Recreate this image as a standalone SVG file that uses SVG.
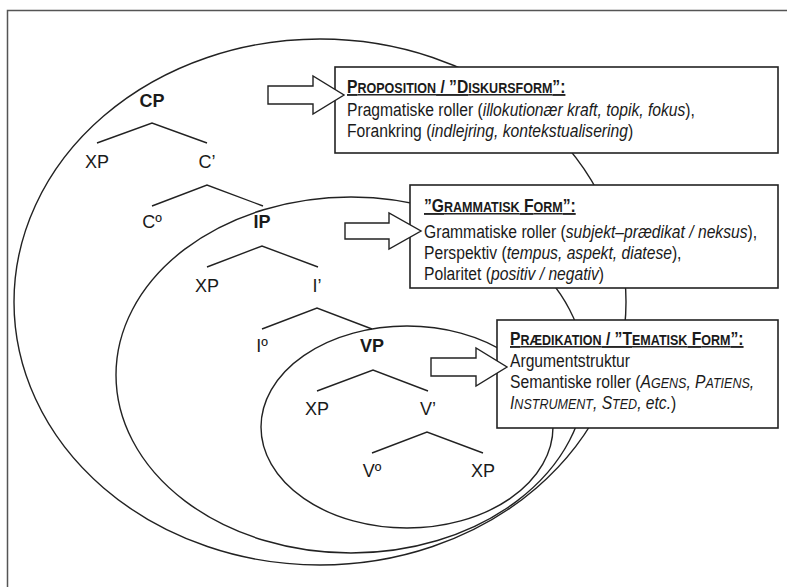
<svg xmlns="http://www.w3.org/2000/svg" width="787" height="587" viewBox="0 0 787 587">
<style>
  .frame{fill:none;stroke:#555;stroke-width:1.5}
  .scope{fill:none;stroke:#222;stroke-width:1.4}
  .box{fill:#fff;stroke:#222;stroke-width:1.6}
  .arrow{fill:#fff;stroke:#222;stroke-width:1.4;stroke-linejoin:miter}
  .edge{fill:none;stroke:#222;stroke-width:1.4}
  .lbl{font-family:"Liberation Sans",Arial,sans-serif;font-size:18px;fill:#1a1a1a;text-anchor:middle}
  .b{font-weight:bold}
  .bt{font-family:"Liberation Sans",Arial,sans-serif;font-size:18px;fill:#1a1a1a}
  .ttl{font-weight:bold;text-decoration:underline}
  .i{font-style:italic}
  .sc{font-size:14.4px}
</style>
<rect x="0" y="0" width="787" height="587" fill="#fff"/>
<path class="frame" d="M7.5 600 V10.5 H800"/>

<g id="scopes">
  <ellipse id="scope-cp" class="scope" cx="320" cy="302" rx="306" ry="263"/>
  <ellipse id="scope-ip" class="scope" cx="351" cy="375" rx="235" ry="178"/>
  <ellipse id="scope-vp" class="scope" cx="407" cy="427" rx="146" ry="101"/>
</g>

<g id="connectors">
  <polyline class="edge" points="97,143 152,123 207,143"/>
  <polyline class="edge" points="152,206 207,185 263,206"/>
  <polyline class="edge" points="207,267 262,246 318,267"/>
  <polyline class="edge" points="262,329 317,308 372,329"/>
  <polyline class="edge" points="317,391 373,370 428,391"/>
  <polyline class="edge" points="372,453 427,432 483,453"/>
</g>

<g id="node-cp"><text class="lbl b" x="152" y="107">CP</text></g>
<g id="node-cp-xp"><text class="lbl" x="97" y="168">XP</text></g>
<g id="node-cbar"><text class="lbl" x="207" y="168">C’</text></g>
<g id="node-c0"><text class="lbl" x="152" y="228">Cº</text></g>
<g id="node-ip"><text class="lbl b" x="262" y="228">IP</text></g>
<g id="node-ip-xp"><text class="lbl" x="207" y="292">XP</text></g>
<g id="node-ibar"><text class="lbl" x="317" y="292">I’</text></g>
<g id="node-i0"><text class="lbl" x="262" y="352">Iº</text></g>
<g id="node-vp"><text class="lbl b" x="372" y="352">VP</text></g>
<g id="node-vp-xp"><text class="lbl" x="317" y="415">XP</text></g>
<g id="node-vbar"><text class="lbl" x="428" y="415">V’</text></g>
<g id="node-v0"><text class="lbl" x="372" y="477">Vº</text></g>
<g id="node-v-xp"><text class="lbl" x="483" y="477">XP</text></g>

<g id="box-proposition">
  <rect class="box" x="335" y="67" width="443" height="86"/>
  <g transform="translate(347 0) scale(0.87 1)">
    <text class="bt ttl" x="0" y="93">P<tspan class="sc">ROPOSITION</tspan> / ”D<tspan class="sc">ISKURSFORM</tspan>”:</text>
    <text class="bt" x="0" y="116">Pragmatiske roller (<tspan class="i">illokutionær kraft, topik, fokus</tspan>),</text>
    <text class="bt" x="0" y="137">Forankring (<tspan class="i">indlejring, kontekstualisering</tspan>)</text>
  </g>
</g>

<g id="box-grammatisk">
  <rect class="box" x="410" y="185" width="368" height="103"/>
  <g transform="translate(424 0) scale(0.87 1)">
    <text class="bt ttl" x="0" y="212">”G<tspan class="sc">RAMMATISK</tspan> F<tspan class="sc">ORM</tspan>”:</text>
    <text class="bt" x="0" y="238">Grammatiske roller (<tspan class="i">subjekt–prædikat / neksus</tspan>),</text>
    <text class="bt" x="0" y="259">Perspektiv (<tspan class="i">tempus, aspekt, diatese</tspan>),</text>
    <text class="bt" x="0" y="280">Polaritet (<tspan class="i">positiv / negativ</tspan>)</text>
  </g>
</g>

<g id="box-praedikation">
  <rect class="box" x="497" y="320" width="281" height="108"/>
  <g transform="translate(510 0) scale(0.87 1)">
    <text class="bt ttl" x="0" y="345">P<tspan class="sc">RÆDIKATION</tspan> / ”T<tspan class="sc">EMATISK</tspan> F<tspan class="sc">ORM</tspan>”:</text>
    <text class="bt" x="0" y="367">Argumentstruktur</text>
    <text class="bt" x="0" y="388">Semantiske roller (<tspan class="i">A<tspan class="sc">GENS</tspan>, P<tspan class="sc">ATIENS</tspan>,</tspan></text>
    <text class="bt" x="0" y="409"><tspan class="i">I<tspan class="sc">NSTRUMENT</tspan>, S<tspan class="sc">TED</tspan>, etc.</tspan>)</text>
  </g>
</g>

<g id="arrows">
  <polygon class="arrow" points="268,86 313,86 313,76 344,95 313,114 313,104 268,104"/>
  <polygon class="arrow" points="345,223 389,223 389,213 421,231 389,249 389,239 345,239"/>
  <polygon class="arrow" points="431,358 476,358 476,348 507,367 476,386 476,376 431,376"/>
</g>
</svg>
